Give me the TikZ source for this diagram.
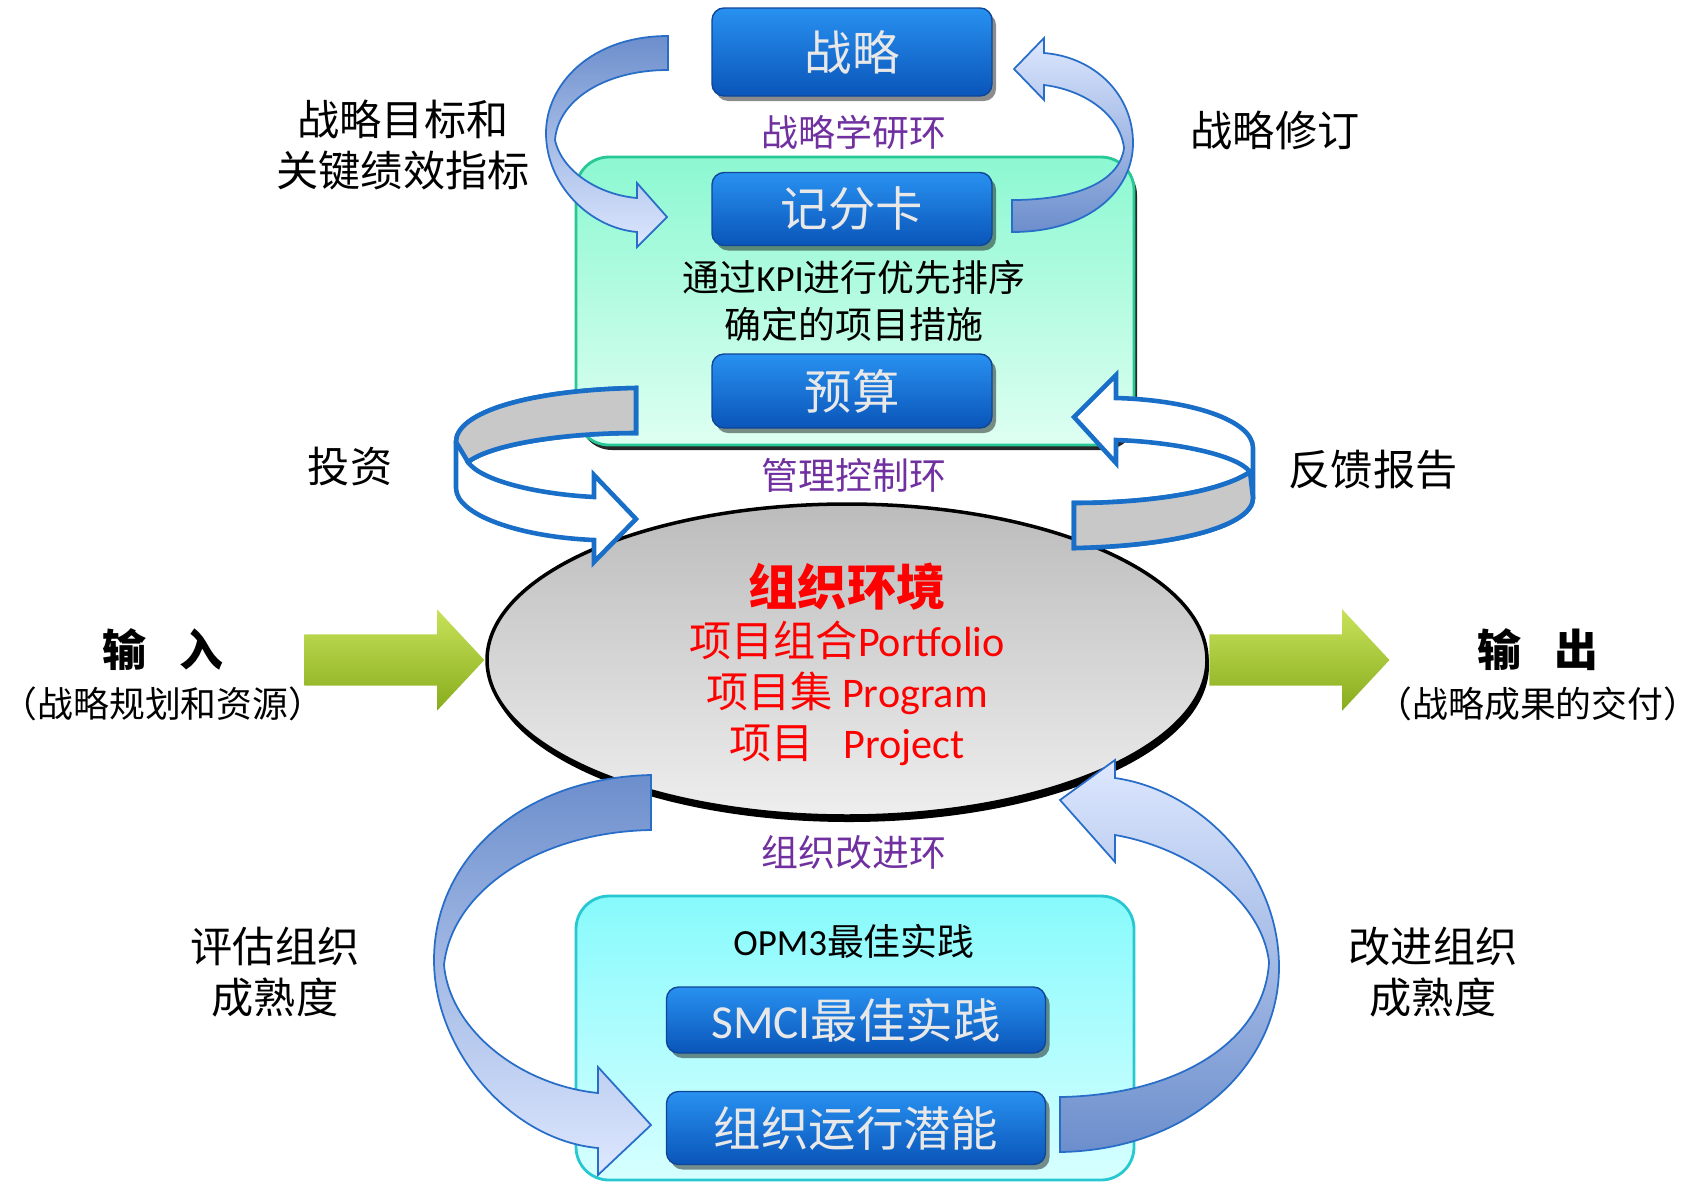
\documentclass[tikz,border=0pt]{standalone}
\usepackage{fontspec}
\setmainfont{Noto Sans CJK SC}
\newfontfamily\lat{Carlito}
\usepackage{tikz}
\usetikzlibrary{shapes.geometric}
\usetikzlibrary{shapes.arrows}
\usetikzlibrary{shadows}

\definecolor{boxtop}{RGB}{40,145,240}
\definecolor{boxbot}{RGB}{10,85,185}
\definecolor{boxline}{RGB}{15,70,150}
\definecolor{boxtext}{RGB}{232,232,232}
\definecolor{loopviolet}{RGB}{112,48,160}
\definecolor{mintop}{RGB}{140,248,210}
\definecolor{minbot}{RGB}{222,255,242}
\definecolor{minline}{RGB}{40,200,150}
\definecolor{aquatop}{RGB}{135,250,252}
\definecolor{aquabot}{RGB}{215,255,255}
\definecolor{aqualine}{RGB}{40,200,210}
\definecolor{ribdark}{RGB}{108,142,204}
\definecolor{riblight}{RGB}{222,232,255}
\definecolor{ribline}{RGB}{40,110,200}
\definecolor{ringline}{RGB}{25,110,200}
\definecolor{ringgrey}{RGB}{200,200,200}
\definecolor{envtop}{RGB}{188,188,188}
\definecolor{envbot}{RGB}{238,238,238}
\definecolor{limetop}{RGB}{200,226,90}
\definecolor{limebot}{RGB}{135,172,28}

\begin{document}
\begin{tikzpicture}[x=0.1mm, y=-0.1mm,
    panel/.style={rectangle, rounded corners=3.3mm, line width=0.8pt, minimum width=55.8mm},
    bluebox/.style={rectangle, rounded corners=1.2mm, inner sep=0.5mm, top color=boxtop, bottom color=boxbot,
      draw=boxline, line width=0.4pt, text=boxtext, font=\fontsize{13.5}{16}\selectfont,
      drop shadow={fill=black, opacity=0.45, shadow xshift=0.4mm, shadow yshift=-0.5mm}},
    looplabel/.style={text=loopviolet, font=\fontsize{10.5}{12}\selectfont},
    sidelabel/.style={align=center, font=\fontsize{12}{14.5}\selectfont},
    iolabel/.style={align=center, inner sep=0pt, font=\fontsize{10.2}{14.5}\selectfont},
    limearrow/.style={single arrow, single arrow head extend=2.5mm, single arrow tip angle=94,
      inner sep=2.5mm, minimum height=18mm, top color=limetop, bottom color=limebot},
    ribbon/.style={draw=ribline, line width=0.5pt},
    ring/.style={draw=ringline, line width=1.3pt}
  ]
  \useasboundingbox (0,0) rectangle (1702,1182);

  % panels behind everything
  \node[panel, minimum height=28.8mm, top color=mintop, bottom color=minbot, draw=minline,
    drop shadow={fill=black, opacity=0.85, shadow xshift=0.3mm, shadow yshift=-0.5mm}] (stratpanel) at (855,301) {};
  \node[panel, minimum height=28.4mm, top color=aquatop, bottom color=aquabot, draw=aqualine] (opmpanel) at (855,1038) {};

  % boxes and texts of the strategy loop
  \node[bluebox, minimum width=28mm, minimum height=8.8mm] (strategy) at (852,52) {战略};
  \node[looplabel] (stratloop) at (854,132) {战略学研环};
  \node[bluebox, minimum width=28mm, minimum height=7.3mm] (scorecard) at (852,209) {记分卡};
  \node[align=center, font=\fontsize{10.5}{13.4}\selectfont] (kpi) at (854,301) {通过{\lat KPI}进行优先排序\\确定的项目措施};
  \node[bluebox, minimum width=28mm, minimum height=7.4mm] (budget) at (852,391) {预算};
  \node[looplabel] (mgmtloop) at (854,475) {管理控制环};

  % organisation
  \node[ellipse, minimum width=72mm, minimum height=31.2mm, top color=envtop, bottom color=envbot,
    draw=black, line width=1pt, drop shadow={fill=black, opacity=1, shadow xshift=0.2mm, shadow yshift=-0.6mm}] (env) at (847,660) {};
  \node[align=center, text=red, font=\fontsize{12}{14.5}\selectfont] (envtext) at (847,664)
    {{\fontsize{14}{14.5}\selectfont\bfseries 组织环境}\\项目组合{\lat Portfolio}\\项目集 {\lat Program}\\项目\hspace{0.7em}{\lat Project}};
  \node[limearrow, anchor=tip] (inarrow) at (env.west) {};
  \node[limearrow, anchor=tail] (outarrow) at (env.east) {};

  % improvement loop
  \node[looplabel] (improveloop) at (854,853) {组织改进环};
  \node[font=\fontsize{10.5}{12}\selectfont] (opm) at (854,941) {{\lat OPM3}最佳实践};
  \node[bluebox, minimum width=37.9mm, minimum height=6.6mm] (smci) at (856,1020) {{\lat SMCI}最佳实践};
  \node[bluebox, minimum width=37.9mm, minimum height=7.3mm] (capability) at (856,1128) {组织运行潜能};

  % curved ribbons
  \path[ribbon, top color=ribdark, bottom color=riblight]
    (668,36) .. controls (590,36) and (546,85) .. (546,133)
    .. controls (546,185) and (590,228) .. (637,232)
    -- (637,247) -- (667,217) -- (637,183) -- (637,198)
    .. controls (600,195) and (562,172) .. (555,140)
    .. controls (558,100) and (605,70) .. (668,70) -- cycle;
  \path[ribbon, top color=riblight, bottom color=ribdark]
    (1012,232) .. controls (1090,232) and (1133,190) .. (1133,143)
    .. controls (1133,95) and (1095,57) .. (1044,53)
    -- (1044,38) -- (1014,69) -- (1044,100) -- (1044,85)
    .. controls (1085,90) and (1120,115) .. (1124,148)
    .. controls (1120,180) and (1080,200) .. (1012,200) -- cycle;

  % hollow rings
  \path[ring, fill=white]
    (636,388) .. controls (530,390) and (456,412) .. (456,442)
    -- (456,488) .. controls (456,515) and (520,537) .. (594,540)
    -- (594,562) -- (636,519) -- (594,475) -- (594,497)
    .. controls (535,494) and (480,480) .. (468,462)
    .. controls (490,445) and (560,433) .. (636,433) -- cycle;
  \path[ring, fill=ringgrey]
    (636,388) .. controls (530,390) and (456,412) .. (456,442)
    -- (468,462) .. controls (490,445) and (560,433) .. (636,433) -- cycle;
  \path[ring, fill=white]
    (1074,548) .. controls (1180,546) and (1253,525) .. (1253,498)
    -- (1253,448) .. controls (1253,420) and (1190,400) .. (1116,398)
    -- (1116,375) -- (1074,417) -- (1116,463) -- (1116,440)
    .. controls (1175,442) and (1238,455) .. (1250,472)
    .. controls (1220,492) and (1150,503) .. (1074,503) -- cycle;
  \path[ring, fill=ringgrey]
    (1074,548) .. controls (1180,546) and (1253,525) .. (1253,498)
    -- (1250,472) .. controls (1220,492) and (1150,503) .. (1074,503) -- cycle;

  % big ribbons
  \path[ribbon, top color=ribdark, bottom color=riblight]
    (651,775) .. controls (520,778) and (434,860) .. (434,960)
    .. controls (434,1050) and (510,1140) .. (598,1148)
    -- (598,1175) -- (651,1125) -- (598,1067) -- (598,1093)
    .. controls (520,1085) and (450,1030) .. (444,965)
    .. controls (452,890) and (540,832) .. (651,830) -- cycle;
  \path[ribbon, top color=riblight, bottom color=ribdark]
    (1060,1152) .. controls (1190,1150) and (1279,1065) .. (1279,967)
    .. controls (1279,870) and (1200,790) .. (1115,778)
    -- (1115,760) -- (1060,800) -- (1115,862) -- (1115,835)
    .. controls (1190,848) and (1262,900) .. (1269,962)
    .. controls (1265,1040) and (1180,1095) .. (1060,1097) -- cycle;

  % side labels
  \node[sidelabel] (goals) at (403,145) {战略目标和\\关键绩效指标};
  \node[sidelabel] (revise) at (1275,130) {战略修订};
  \node[sidelabel] (invest) at (350,467) {投资};
  \node[sidelabel] (report) at (1373,470) {反馈报告};
  \node[sidelabel] (assess) at (275,972) {评估组织\\成熟度};
  \node[sidelabel] (improve) at (1433,972) {改进组织\\成熟度};
  \node[iolabel] (input) at (163,675) {{\fontsize{12.5}{14.5}\selectfont\bfseries 输\hspace{0.75em}入}\\（战略规划和资源）};
  \node[iolabel] (output) at (1538,675) {{\fontsize{12.5}{14.5}\selectfont\bfseries 输\hspace{0.75em}出}\\（战略成果的交付）};
\end{tikzpicture}
\end{document}
